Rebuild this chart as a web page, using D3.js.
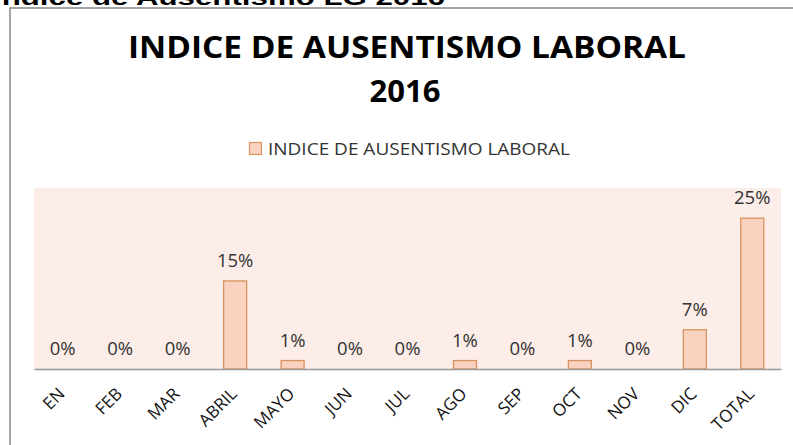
<!DOCTYPE html>
<html lang="es">
<head>
<meta charset="UTF-8">
<title>Indice de Ausentismo Laboral 2016</title>
<style>
  body { margin: 0; background: #fff; }
  svg { display: block; }
</style>
</head>
<body>
<svg id="svg" width="793" height="445"></svg>
<script src="https://d3js.org/d3.v7.min.js"></script>
<script>
const meses = ["EN", "FEB", "MAR", "ABRIL", "MAYO", "JUN", "JUL", "AGO", "SEP", "OCT", "NOV", "DIC", "TOTAL"]
const indice = [0, 0, 0, 0.146, 0.014, 0, 0, 0.014, 0, 0.014, 0, 0.065, 0.25]
const etiquetas = ["0%", "0%", "0%", "15%", "1%", "0%", "0%", "1%", "0%", "1%", "0%", "7%", "25%"]
const serie = "INDICE DE AUSENTISMO LABORAL"
const titulo = ["INDICE DE AUSENTISMO LABORAL", "2016"]

const svg = d3.select("svg#svg")
const plot = { left: 34, right: 781, top: 188, bottom: 369 }

// texto de la hoja, cortado arriba
svg.append("text")
  .attr("x", -7).attr("y", 5)
  .attr("font-family", "Liberation Sans, Arial, sans-serif")
  .attr("font-weight", "bold").attr("font-size", 22)
  .attr("textLength", 452).attr("lengthAdjust", "spacingAndGlyphs")
  .text("Indice de Ausentismo LG 2016")

// marco del grafico
svg.append("path")
  .attr("d", "M10,445 V8 H793")
  .attr("fill", "none").attr("stroke", "#888").attr("stroke-width", 1.5)

// titulo
svg.append("text")
  .attr("x", 407).attr("y", 58)
  .attr("text-anchor", "middle")
  .attr("font-family", "Open Sans, sans-serif").attr("font-weight", "bold").attr("font-size", 31)
  .attr("textLength", 558).attr("lengthAdjust", "spacingAndGlyphs")
  .text(titulo[0])
svg.append("text")
  .attr("x", 405).attr("y", 102)
  .attr("text-anchor", "middle")
  .attr("font-family", "Open Sans, sans-serif").attr("font-weight", "bold").attr("font-size", 31)
  .text(titulo[1])

// leyenda
svg.append("rect")
  .attr("x", 249.5).attr("y", 142.5).attr("width", 12).attr("height", 12)
  .attr("fill", "#f9d3c0").attr("stroke", "#d9925f").attr("stroke-width", 1.2)
svg.append("text")
  .attr("x", 268).attr("y", 154.5)
  .attr("font-family", "Open Sans, sans-serif").attr("font-size", 16.5).attr("fill", "#333")
  .attr("textLength", 302).attr("lengthAdjust", "spacingAndGlyphs")
  .text(serie)

// fondo del area de trazado
svg.append("rect")
  .attr("x", plot.left).attr("y", plot.top)
  .attr("width", plot.right - plot.left).attr("height", plot.bottom - plot.top)
  .attr("fill", "#fcede9")

const xScale = d3.scaleBand().domain(meses).range([plot.left, plot.right]).paddingInner(0.6).paddingOuter(0.3)
const yScale = d3.scaleLinear().domain([0, 0.30]).range([plot.bottom, plot.top])

const datos = meses.map((m, i) => ({ mes: m, valor: indice[i], etiqueta: etiquetas[i] }))

svg.append("g").selectAll("rect")
  .data(datos.filter(d => d.valor > 0))
  .enter().append("rect")
  .attr("x", d => xScale(d.mes))
  .attr("y", d => yScale(d.valor))
  .attr("width", xScale.bandwidth())
  .attr("height", d => yScale(0) - yScale(d.valor))
  .attr("fill", "#f9d3c0").attr("stroke", "#d9925f").attr("stroke-width", 1.3)

// eje x
const xAxis = d3.axisBottom(xScale).tickSize(0).tickPadding(0)
const gx = svg.append("g").attr("transform", `translate(0,${plot.bottom})`).call(xAxis)
gx.select(".domain").attr("stroke", "#999").attr("stroke-width", 1.3)
gx.selectAll("text")
  .attr("font-family", "Open Sans, sans-serif").attr("font-size", 17).attr("fill", "#111")
  .attr("text-anchor", "end")
  .attr("dy", null).attr("y", 0)
  .attr("transform", "translate(3,26) rotate(-45)")

// etiquetas de datos
svg.append("g").selectAll("text")
  .data(datos)
  .enter().append("text")
  .attr("x", d => xScale(d.mes) + xScale.bandwidth() / 2)
  .attr("y", d => yScale(d.valor) - 14)
  .attr("text-anchor", "middle")
  .attr("font-family", "Open Sans, sans-serif").attr("font-size", 18.5).attr("fill", "#333")
  .text(d => d.etiqueta)
</script>
</body>
</html>
